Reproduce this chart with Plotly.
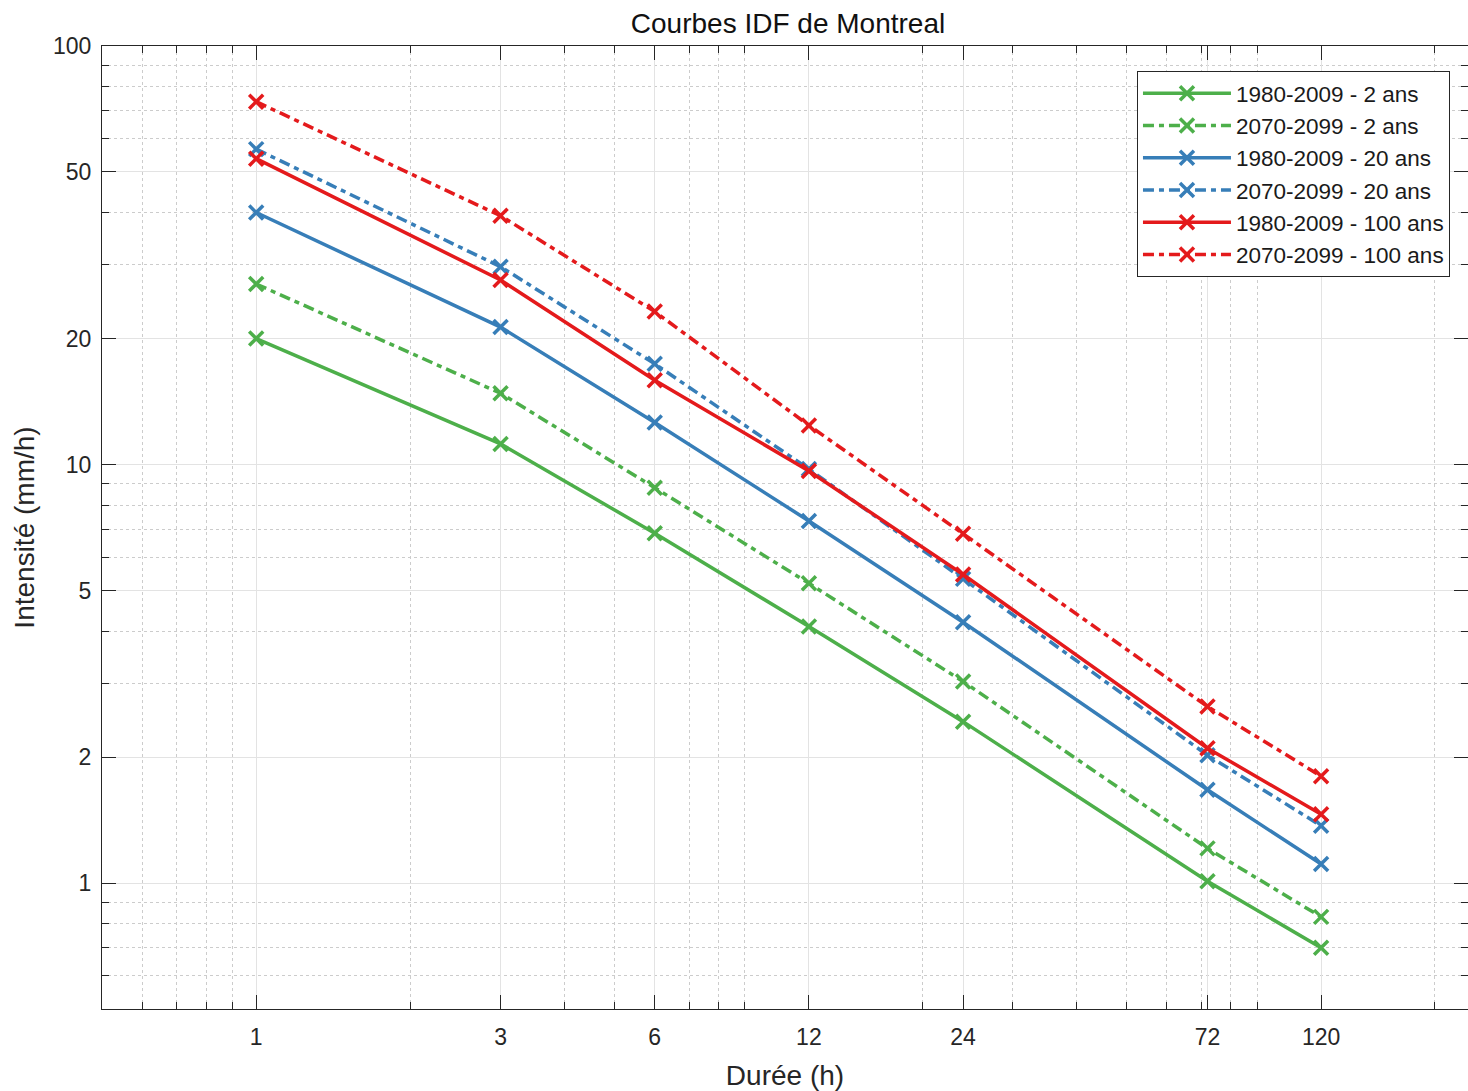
import numpy as np
import plotly.graph_objects as go

# Durations (h) and rainfall intensities (mm/h)
durations = [1, 3, 6, 12, 24, 72, 120]

series_names = [
    "1980-2009 - 2 ans",
    "2070-2099 - 2 ans",
    "1980-2009 - 20 ans",
    "2070-2099 - 20 ans",
    "1980-2009 - 100 ans",
    "2070-2099 - 100 ans",
]

hist_2 = [20.0, 11.2, 6.85, 4.1, 2.43, 1.01, 0.70]
fut_2 = [27.0, 14.8, 8.8, 5.2, 3.03, 1.21, 0.83]
hist_20 = [40.0, 21.3, 12.6, 7.33, 4.2, 1.67, 1.11]
fut_20 = [56.7, 29.7, 17.4, 9.75, 5.33, 2.02, 1.37]
hist_100 = [53.8, 27.6, 15.9, 9.65, 5.46, 2.10, 1.46]
fut_100 = [73.6, 39.3, 23.2, 12.4, 6.83, 2.64, 1.80]

series_values = [hist_2, fut_2, hist_20, fut_20, hist_100, fut_100]

x_ticks = [1, 3, 6, 12, 24, 72, 120]
x_minor = [0.6, 0.7, 0.8, 0.9, 2, 4, 5, 7, 8, 9, 20, 30, 40, 50, 60, 70, 80, 90, 200]
y_ticks = [1, 2, 5, 10, 20, 50, 100]
y_minor = [0.6, 0.7, 0.8, 0.9, 3, 4, 6, 7, 8, 9, 30, 40, 60, 70, 80, 90]

GREEN = "#4daf4a"
BLUE = "#377eb8"
RED = "#e41a1c"
colors = [GREEN, GREEN, BLUE, BLUE, RED, RED]
dashes = ["solid", "11px,5px,5px,5px"] * 3

FONT = "Liberation Sans, Arial, sans-serif"
AXIS_COLOR = "#262626"

fig = go.Figure()
for i, (name, vals) in enumerate(zip(series_names, series_values)):
    fig.add_trace(go.Scatter(
        x=durations, y=vals, name=name, mode="lines+markers",
        legendgroup=f"g{i}",
        line=dict(color=colors[i], width=3.5, dash=dashes[i]),
        marker=dict(symbol="x-thin", size=14,
                    line=dict(color=colors[i], width=3.5)),
    ))

axis_common = dict(
    type="log",
    showline=True, linecolor=AXIS_COLOR, linewidth=1,
    mirror="allticks",
    ticks="inside", ticklen=14, tickwidth=1, tickcolor=AXIS_COLOR,
    showgrid=True, gridcolor="#e3e3e3", gridwidth=1,
    zeroline=False,
    tickfont=dict(family=FONT, size=23, color="#262626"),
)

minor_common = dict(tickmode="array", ticks="inside", ticklen=7,
                    tickcolor=AXIS_COLOR, tickwidth=1,
                    showgrid=True, gridcolor="#cccccc", griddash="dot",
                    gridwidth=1)

fig.update_xaxes(
    **axis_common,
    range=[np.log10(0.5), 2.366],
    tickmode="array", tickvals=x_ticks, ticktext=[str(v) for v in x_ticks],
    ticklabelstandoff=7,
    minor=dict(tickvals=x_minor, **minor_common),
    title=dict(text="Durée (h)", font=dict(family=FONT, size=28, color="#262626"),
               standoff=16),
)
fig.update_yaxes(
    **axis_common,
    range=[np.log10(0.5), 2],
    tickmode="array", tickvals=y_ticks, ticktext=[str(v) for v in y_ticks],
    ticklabelstandoff=5,
    minor=dict(tickvals=y_minor, **minor_common),
    title=dict(text="Intensité (mm/h)", font=dict(family=FONT, size=28, color="#262626"),
               standoff=10),
)

fig.update_layout(
    width=1468, height=1091,
    margin=dict(l=102, r=0, t=46, b=82),
    paper_bgcolor="white", plot_bgcolor="white",
    title=dict(text="Courbes IDF de Montreal", x=788 / 1468,
               xref="container", y=1 - 23 / 1091, yref="container",
               xanchor="center", yanchor="middle",
               font=dict(family=FONT, size=28, color="#111111")),
    legend=dict(x=0.9868, y=0.974, xanchor="right", yanchor="top",
                bgcolor="white", bordercolor=AXIS_COLOR, borderwidth=1,
                font=dict(family=FONT, size=22.5, color="#1a1a1a"),
                itemwidth=88, tracegroupgap=0),
    showlegend=True,
)

fig.write_html("out.html")
